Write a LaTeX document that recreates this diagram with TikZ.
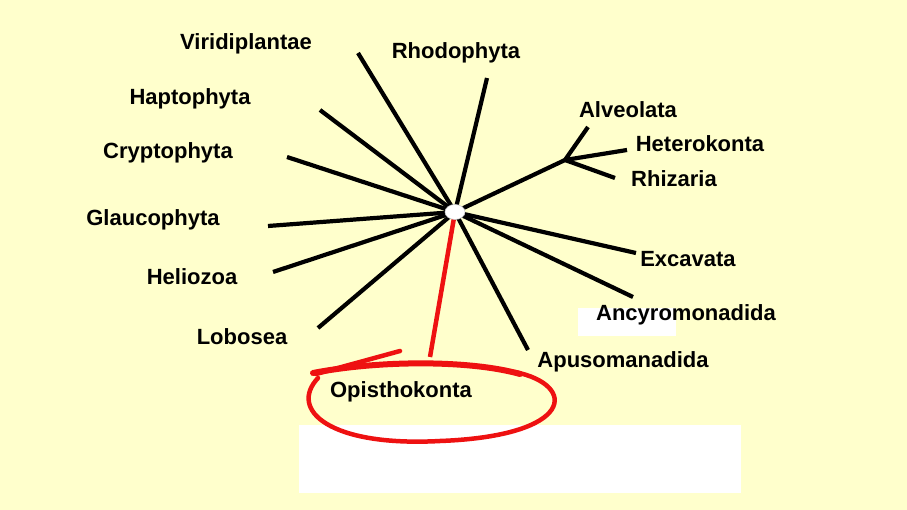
\documentclass[tikz,border=0pt]{standalone}
\usepackage{fontspec}
\setmainfont{Liberation Sans}
\usetikzlibrary{shapes.geometric}
\definecolor{bg}{HTML}{FFFFCC}
\definecolor{redline}{HTML}{EE1111}
\begin{document}
\begin{tikzpicture}[x=1pt,y=-1pt,
  lab/.style={font=\fontsize{22}{26}\selectfont\bfseries, inner sep=0pt},
  branch/.style={line width=4.2pt, black},
  redb/.style={line width=4.5pt, redline, line cap=round}]
\fill[bg] (0,0) rectangle (907,510);
\useasboundingbox (0,0) rectangle (907,510);
\fill[white] (299,425) rectangle (741,493);
\fill[white] (578,308) rectangle (676,336);
% endpoints
\coordinate (c) at (455,212);
\coordinate (eVir) at (358,53);
\coordinate (eRho) at (487,78);
\coordinate (eHap) at (320,110);
\coordinate (eCry) at (287,157);
\coordinate (eGla) at (268,226);
\coordinate (eHel) at (273,272);
\coordinate (eLob) at (318,328);
\coordinate (eOpi) at (430,357);
\coordinate (eApu) at (528,350);
\coordinate (eAnc) at (633,297);
\coordinate (eExc) at (636,253);
\coordinate (fork) at (565,160);
\coordinate (eAlv) at (588,127);
\coordinate (eHet) at (627,150);
\coordinate (eRhi) at (615,178);
% labels
\node[lab] (Vir) at (246,44) {Viridiplantae};
\node[lab] (Rho) at (456,53) {Rhodophyta};
\node[lab] (Hap) at (190,99) {Haptophyta};
\node[lab] (Cry) at (168,153) {Cryptophyta};
\node[lab] (Gla) at (153,220) {Glaucophyta};
\node[lab] (Hel) at (192,277) {Heliozoa};
\node[lab] (Lob) at (242,337) {Lobosea};
\node[lab] (Opi) at (401,392) {Opisthokonta};
\node[lab] (Apu) at (623,362) {Apusomanadida};
\node[lab] (Anc) at (686,315) {Ancyromonadida};
\node[lab] (Exc) at (688,259) {Excavata};
\node[lab] (Alv) at (628,110) {Alveolata};
\node[lab] (Het) at (700,144) {Heterokonta};
\node[lab] (Rhi) at (674,179) {Rhizaria};
% branches
\foreach \e in {eVir,eRho,eHap,eCry,eGla,eHel,eLob,eApu,eAnc,eExc,fork}
  \draw[branch] (c) -- (\e);
\draw[branch] (fork) -- (eAlv);
\draw[branch] (fork) -- (eHet);
\draw[branch] (fork) -- (eRhi);
\draw[line width=4.5pt, redline] (c) -- (eOpi);
\node[ellipse, fill=white, draw=gray!40, line width=0.6pt, minimum width=20pt, minimum height=15pt, inner sep=0pt] (hub) at (c) {};
% red hand-drawn circle
\draw[redb, line width=6pt] (313,373) .. controls (380,360) and (470,360) .. (520,374);
\draw[redb] (316,374) -- (400,351);
\draw[redb] (515,372) .. controls (578,385) and (575,436) .. (440,441)
  .. controls (330,447) and (288,410) .. (318,378);
\end{tikzpicture}
\end{document}
